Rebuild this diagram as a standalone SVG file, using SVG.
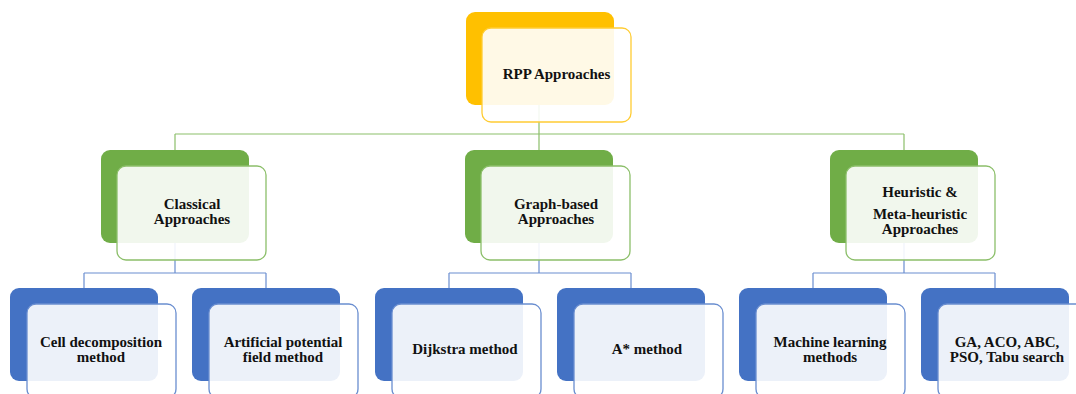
<svg xmlns="http://www.w3.org/2000/svg" width="1076" height="394" viewBox="0 0 1076 394">
<style>
.y .bk{fill:#FFC000}
.g .bk{fill:#70AD47}
.b .bk{fill:#4472C4}
.fr{fill:#FFFFFF;fill-opacity:0.9;stroke-width:1.3}
.y .fr{stroke:#FFCC33}
.g .fr{stroke:#8CBF6A}
.b .fr{stroke:#6A8ED0}
.t{font-family:'Liberation Serif','Times New Roman','DejaVu Serif',serif;font-weight:700;font-size:15px;fill:#111;text-anchor:middle}
.cg{stroke:#8CBF6A;stroke-width:1.2;fill:none}
.cb{stroke:#6A8ED0;stroke-width:1.2;fill:none}
</style>
<rect width="1076" height="394" fill="#FFFFFF"/>
<g id="connectors">
<path class="cg" d="M539,105V134M175,134H904M175,134V150M539,134V150M904,134V150"/>
<path class="cb" d="M175,243V273M84,273H266M84,273V288M266,273V288"/>
<path class="cb" d="M539,243V273M449,273H631M449,273V288M631,273V288"/>
<path class="cb" d="M904,243V273M813,273H995M813,273V288M995,273V288"/>
</g>
<g id="rpp" class="y">
<rect class="bk" x="466" y="12" width="148" height="93" rx="9"/>
<rect class="fr" x="482" y="28" width="149" height="94" rx="9"/>
<text class="t" x="556.5" y="79" font-family="Liberation Serif, serif">RPP Approaches</text>
</g>
<g id="classical" class="g">
<rect class="bk" x="101" y="150" width="148" height="93" rx="9"/>
<rect class="fr" x="117" y="166" width="149" height="94" rx="9"/>
<text class="t" x="192" y="209">Classical</text>
<text class="t" x="192" y="224">Approaches</text>
</g>
<g id="graph" class="g">
<rect class="bk" x="465" y="150" width="148" height="93" rx="9"/>
<rect class="fr" x="481" y="166" width="149" height="94" rx="9"/>
<text class="t" x="556" y="209">Graph-based</text>
<text class="t" x="556" y="224">Approaches</text>
</g>
<g id="heuristic" class="g">
<rect class="bk" x="830" y="150" width="148" height="93" rx="9"/>
<rect class="fr" x="846" y="166" width="149" height="94" rx="9"/>
<text class="t" x="920" y="197">Heuristic &amp;</text>
<text class="t" x="920" y="219">Meta-heuristic</text>
<text class="t" x="920" y="234">Approaches</text>
</g>
<g id="cell" class="b">
<rect class="bk" x="10" y="288" width="148" height="93" rx="9"/>
<rect class="fr" x="27" y="304" width="149" height="94" rx="9"/>
<text class="t" x="101" y="347">Cell decomposition</text>
<text class="t" x="101" y="362">method</text>
</g>
<g id="apf" class="b">
<rect class="bk" x="192" y="288" width="148" height="93" rx="9"/>
<rect class="fr" x="209" y="304" width="149" height="94" rx="9"/>
<text class="t" x="283" y="347">Artificial potential</text>
<text class="t" x="283" y="362">field method</text>
</g>
<g id="dijkstra" class="b">
<rect class="bk" x="375" y="288" width="148" height="93" rx="9"/>
<rect class="fr" x="392" y="304" width="149" height="94" rx="9"/>
<text class="t" x="465" y="354">Dijkstra method</text>
</g>
<g id="astar" class="b">
<rect class="bk" x="557" y="288" width="148" height="93" rx="9"/>
<rect class="fr" x="574" y="304" width="149" height="94" rx="9"/>
<text class="t" x="647" y="354">A* method</text>
</g>
<g id="ml" class="b">
<rect class="bk" x="739" y="288" width="148" height="93" rx="9"/>
<rect class="fr" x="756" y="304" width="149" height="94" rx="9"/>
<text class="t" x="830" y="347">Machine learning</text>
<text class="t" x="830" y="362">methods</text>
</g>
<g id="meta" class="b">
<rect class="bk" x="921" y="288" width="148" height="93" rx="9"/>
<rect class="fr" x="938" y="304" width="149" height="94" rx="9"/>
<text class="t" x="1007" y="347">GA, ACO, ABC,</text>
<text class="t" x="1007" y="362">PSO, Tabu search</text>
</g>
</svg>
